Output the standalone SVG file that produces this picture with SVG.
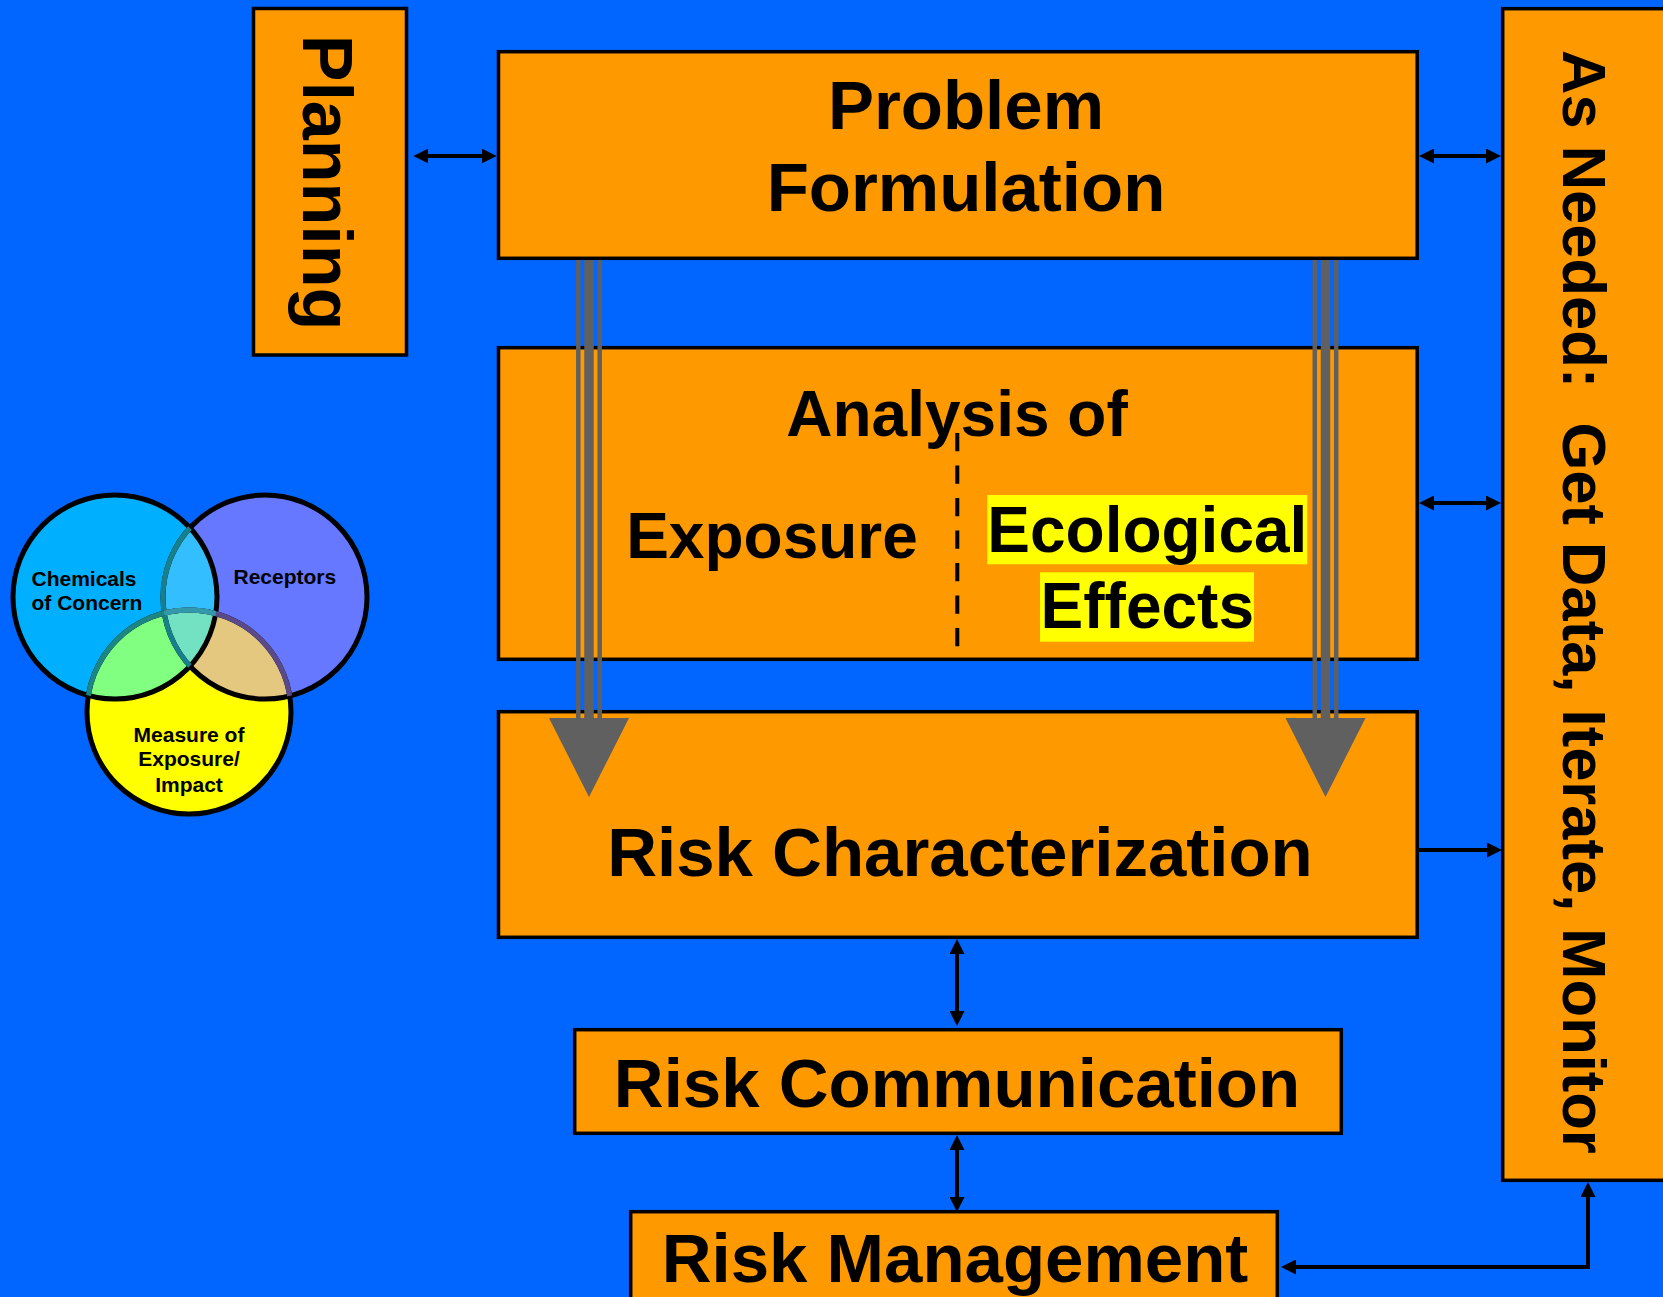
<svg xmlns="http://www.w3.org/2000/svg" width="1663" height="1297" viewBox="0 0 1663 1297">
  <style>
    .box { fill: #FF9900; stroke: #000000; stroke-width: 3.5; }
    .big { font-family: "Liberation Sans", Arial, sans-serif; font-weight: bold; font-size: 69px; fill: #000000; text-anchor: middle; }
    .mid { font-family: "Liberation Sans", Arial, sans-serif; font-weight: bold; font-size: 64px; fill: #000000; text-anchor: middle; }
    .small { font-family: "Liberation Sans", Arial, sans-serif; font-weight: bold; font-size: 21px; fill: #000000; }
    .link { fill: none; stroke: #000000; stroke-width: 4; }
    .hl { fill: #FFFF00; }
    .flowthin { stroke: #606060; stroke-width: 4.5; }
    .flowthick { stroke: #606060; stroke-width: 9.5; }
    .flowhead { fill: #606060; }
    .ring { fill: none; stroke-width: 5; }
  </style>
  <defs>
    <marker id="ah" viewBox="0 0 15 15" refX="5" refY="7.5" markerWidth="15" markerHeight="15" markerUnits="userSpaceOnUse" orient="auto-start-reverse">
      <path d="M0,0 L15,7.5 L0,15 Z" fill="#000000"/>
    </marker>
    <clipPath id="inC1"><circle cx="115" cy="597" r="102"/></clipPath>
    <clipPath id="inC2"><circle cx="265" cy="597" r="102"/></clipPath>
  </defs>

  <!-- background -->
  <rect x="0" y="0" width="1663" height="1297" fill="#0066FF"/>

  <!-- three-set overlap diagram -->
  <g id="venn">
    <circle cx="115" cy="597" r="102" fill="#00B0FF"/>
    <circle cx="265" cy="597" r="102" fill="#6678FF"/>
    <circle cx="189" cy="712" r="102" fill="#FFFF00"/>
    <g clip-path="url(#inC1)">
      <circle cx="265" cy="597" r="102" fill="#33BEFF"/>
      <circle cx="189" cy="712" r="102" fill="#80FF80"/>
    </g>
    <g clip-path="url(#inC2)">
      <circle cx="189" cy="712" r="102" fill="#E5C880"/>
    </g>
    <g clip-path="url(#inC1)">
      <g clip-path="url(#inC2)">
        <circle cx="189" cy="712" r="102" fill="#72E2C2"/>
      </g>
    </g>
    <!-- outlines -->
    <circle class="ring" cx="115" cy="597" r="102" stroke="#000000"/>
    <circle class="ring" cx="265" cy="597" r="102" stroke="#000000"/>
    <circle class="ring" cx="265" cy="597" r="102" stroke="#17808A" clip-path="url(#inC1)"/>
    <circle class="ring" cx="189" cy="712" r="102" stroke="#000000"/>
    <circle class="ring" cx="189" cy="712" r="102" stroke="#5A4A8A" clip-path="url(#inC2)"/>
    <circle class="ring" cx="189" cy="712" r="102" stroke="#1C8682" clip-path="url(#inC1)"/>
    <g clip-path="url(#inC1)">
      <circle class="ring" cx="189" cy="712" r="102" stroke="#3399AA" clip-path="url(#inC2)"/>
    </g>
    <text class="small" x="31.5" y="586">Chemicals</text>
    <text class="small" x="31.5" y="610">of Concern</text>
    <text class="small" x="233.5" y="583.5">Receptors</text>
    <text class="small" x="189" y="742" text-anchor="middle">Measure of</text>
    <text class="small" x="189" y="766" text-anchor="middle">Exposure/</text>
    <text class="small" x="189" y="792" text-anchor="middle">Impact</text>
  </g>

  <g id="planning">
    <rect class="box" x="253.5" y="8.5" width="153" height="346.5"/>
    <text class="big" style="font-size:70px" transform="translate(303.3,182.5) rotate(90)">Planning</text>
  </g>

  <g id="problem-formulation">
    <rect class="box" x="498.5" y="51.7" width="918.7" height="206.6"/>
    <text class="big" x="966" y="129">Problem</text>
    <text class="big" x="966" y="210.7">Formulation</text>
  </g>

  <g id="analysis">
    <rect class="box" x="498.5" y="347.7" width="918.7" height="311.6"/>
    <text class="mid" x="957" y="435.7">Analysis of</text>
    <text class="mid" x="772" y="558.3">Exposure</text>
    <line x1="957.3" y1="433" x2="957.3" y2="649" stroke="#000000" stroke-width="4" stroke-dasharray="18.3 14.2"/>
    <rect class="hl" x="987.3" y="495" width="320" height="69.3"/>
    <rect class="hl" x="1040" y="572.3" width="214" height="69.4"/>
    <text class="mid" x="1147.3" y="551.7">Ecological</text>
    <text class="mid" x="1147.3" y="628.3">Effects</text>
  </g>

  <g id="risk-characterization">
    <rect class="box" x="498.5" y="711.7" width="918.7" height="225.6"/>
    <text class="big" x="960" y="876">Risk Characterization</text>
  </g>

  <g id="risk-communication">
    <rect class="box" x="574.7" y="1029.7" width="766.6" height="103.6"/>
    <text class="big" x="957" y="1107">Risk Communication</text>
  </g>

  <g id="risk-management">
    <rect class="box" x="630.7" y="1211.7" width="646.6" height="120"/>
    <text class="big" x="955" y="1282">Risk Management</text>
  </g>

  <g id="as-needed">
    <rect class="box" x="1502.7" y="8.7" width="200" height="1171.6"/>
    <text class="big" style="font-size:61.5px;text-anchor:start" transform="translate(1562.7,50) rotate(90)">As Needed:&#160; Get Data, Iterate, Monitor</text>
  </g>

  <!-- flow from problem formulation through analysis into characterization -->
  <g id="flow-arrows">
    <line class="flowthin" x1="578.3" y1="260" x2="578.3" y2="720"/>
    <line class="flowthick" x1="589" y1="260" x2="589" y2="720"/>
    <line class="flowthin" x1="599.7" y1="260" x2="599.7" y2="720"/>
    <polygon class="flowhead" points="549,718 629,718 589,797"/>
    <line class="flowthin" x1="1314.8" y1="260" x2="1314.8" y2="720"/>
    <line class="flowthick" x1="1325.5" y1="260" x2="1325.5" y2="720"/>
    <line class="flowthin" x1="1336.2" y1="260" x2="1336.2" y2="720"/>
    <polygon class="flowhead" points="1285.5,718 1365.5,718 1325.5,797"/>
  </g>

  <g id="connectors">
    <line class="link" x1="423.3" y1="156" x2="486.7" y2="156" marker-start="url(#ah)" marker-end="url(#ah)"/>
    <line class="link" x1="1429" y1="156" x2="1491" y2="156" marker-start="url(#ah)" marker-end="url(#ah)"/>
    <line class="link" x1="1429" y1="503" x2="1491" y2="503" marker-start="url(#ah)" marker-end="url(#ah)"/>
    <line class="link" x1="1419" y1="850" x2="1492" y2="850" marker-end="url(#ah)"/>
    <line class="link" x1="957" y1="949" x2="957" y2="1016" marker-start="url(#ah)" marker-end="url(#ah)"/>
    <line class="link" x1="957" y1="1145" x2="957" y2="1202" marker-start="url(#ah)" marker-end="url(#ah)"/>
    <polyline class="link" points="1291,1267 1588,1267 1588,1192" marker-start="url(#ah)" marker-end="url(#ah)"/>
  </g>
</svg>
